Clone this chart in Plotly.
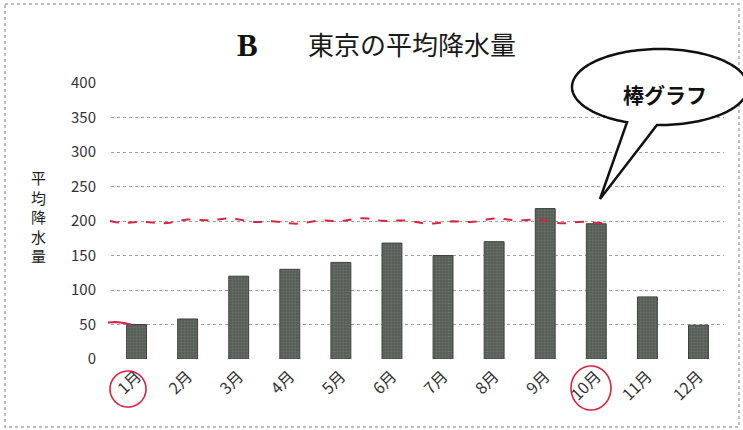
import numpy as np
import plotly.graph_objects as go

# Tokyo average monthly precipitation (mm)
months = ["1月", "2月", "3月", "4月", "5月", "6月", "7月", "8月", "9月", "10月", "11月", "12月"]
rainfall = [50, 58, 120, 130, 140, 168, 150, 170, 218, 196, 90, 49]
y_ticks = [0, 50, 100, 150, 200, 250, 300, 350, 400]

W, H = 743, 430
ML, MR, MT, MB = 111, 19, 83, 71
PW, PH = W - ML - MR, H - MT - MB


def px(x):
    """pixel x -> paper x"""
    return (x - ML) / PW


def py(y):
    """pixel y (from top) -> paper y"""
    return (H - MB - y) / PH


def path_from(points, close=False):
    s = "M " + " L ".join(f"{px(x):.5f},{py(y):.5f}" for x, y in points)
    return s + (" Z" if close else "")


fig = go.Figure(
    go.Bar(
        x=months,
        y=rainfall,
        width=0.39,
        marker=dict(
            color="#5c635c",
            line=dict(color="#3d423d", width=1),
            pattern=dict(shape=".", fgcolor="#808780", bgcolor="#565d56",
                         size=3, solidity=0.35),
        ),
        hoverinfo="x+y",
    )
)

shapes = []

# dotted frame around the chart
shapes.append(dict(type="path", xref="paper", yref="paper",
                   path=path_from([(5, 4), (739, 4), (739, 427), (5, 427)], close=True),
                   line=dict(color="#a8a8a8", width=1.5, dash="dot")))

# speech bubble
cx, cy, rx, ry = 660, 87, 88, 38
t = np.radians(np.linspace(92, 112 - 360, 160))
ell = [(cx + rx * np.cos(a), cy + ry * np.sin(a)) for a in t]
bubble = ell + [(600, 199)]
shapes.append(dict(type="path", xref="paper", yref="paper",
                   path=path_from(bubble, close=True),
                   fillcolor="white", line=dict(color="#111111", width=2.5)))

# handwritten red marks
red = "#d9233f"
wave_x = np.arange(110, 606, 6)
wave_y = 221 + 1.8 * np.sin((wave_x - 110) / 23.0) + 1.0 * np.sin((wave_x - 110) / 7.0)
shapes.append(dict(type="path", xref="paper", yref="paper",
                   path=path_from(list(zip(wave_x, wave_y))),
                   line=dict(color=red, width=2, dash="dash")))
shapes.append(dict(type="path", xref="paper", yref="paper",
                   path=path_from([(108, 322.5), (116, 322), (124, 323), (131, 324.5)]),
                   line=dict(color=red, width=2)))
for (ccx, ccy, crx, cry) in [(128, 389, 18, 18), (591, 388, 20, 22)]:
    a = np.radians(np.linspace(-80, 300, 90))
    ring = [(ccx + crx * np.cos(v), ccy + cry * np.sin(v)) for v in a]
    shapes.append(dict(type="path", xref="paper", yref="paper",
                       path=path_from(ring),
                       line=dict(color=red, width=1.6)))

annotations = [
    dict(text="<b>B</b>", x=px(247), y=py(45), xref="paper", yref="paper",
         showarrow=False, xanchor="center", yanchor="middle",
         font=dict(family="Liberation Serif", size=31, color="#111111")),
    dict(text="東京の平均降水量", x=px(306), y=py(43), xref="paper", yref="paper",
         showarrow=False, xanchor="left", yanchor="middle",
         font=dict(family="Noto Sans CJK JP", size=26, color="#1a1a1a")),
    dict(text="<b>棒グラフ</b>", x=px(665), y=py(94), xref="paper", yref="paper",
         showarrow=False, xanchor="center", yanchor="middle",
         font=dict(family="Noto Sans CJK JP", size=21, color="#111111")),
    # vertical axis title, one character per line
    dict(text="<br>".join("平均降水量"), x=px(38), y=py(216),
         xref="paper", yref="paper", showarrow=False,
         xanchor="center", yanchor="middle",
         font=dict(family="Noto Sans CJK JP", size=15, color="#222222")),
]

fig.update_layout(
    width=W, height=H,
    margin=dict(l=ML, r=MR, t=MT, b=MB, autoexpand=False),
    paper_bgcolor="white", plot_bgcolor="white",
    showlegend=False,
    bargap=0.61,
    font=dict(family="Noto Sans CJK JP", color="#333333"),
    xaxis=dict(showgrid=False, showline=False, zeroline=False, ticks="",
               tickangle=-45, ticklabelstandoff=4,
               tickfont=dict(size=16, color="#333333")),
    yaxis=dict(range=[0, 400], tickvals=y_ticks, showgrid=True,
               gridcolor="#a0a0a0", griddash="dot", gridwidth=1,
               zeroline=False, showline=False, ticks="",
               ticklabelstandoff=14,
               tickfont=dict(size=15, color="#333333")),
    shapes=shapes,
    annotations=annotations,
)

fig.write_html("out.html")
